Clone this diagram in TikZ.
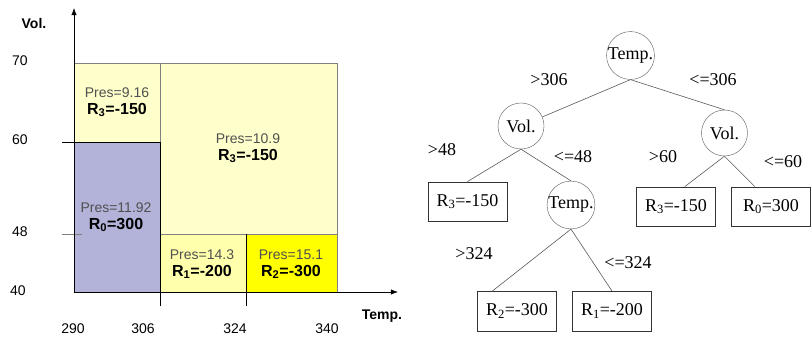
\documentclass[tikz,border=0pt]{standalone}
\usepackage{fontspec}
\setmainfont{Liberation Serif}
\setsansfont{Liberation Sans}
\usepackage{xcolor}
\usepackage{tikz}
\usetikzlibrary{positioning,arrows.meta}
\definecolor{paleyel}{RGB}{255,255,204}
\definecolor{midyel}{RGB}{255,255,172}
\definecolor{hotyel}{RGB}{255,255,0}
\definecolor{regblue}{RGB}{179,179,217}
\definecolor{presgray}{RGB}{80,80,80}

\begin{document}
\begin{tikzpicture}[x=1pt, y=-1pt, every node/.style={font=\fontsize{14}{16}\selectfont\sffamily}]
    \tikzstyle{region}=[align=center, inner sep=1pt, font=\fontsize{14}{17}\selectfont\sffamily\color{presgray}]
    \tikzstyle{tick}=[anchor=center]
    \tikzstyle{test}=[draw=black!65, circle, minimum size=46pt, inner sep=0pt, font=\fontsize{18}{18}\selectfont\rmfamily]
    \tikzstyle{leaf}=[draw=black!80, minimum width=79pt, minimum height=39.5pt, inner sep=0pt, font=\fontsize{18}{18}\selectfont\rmfamily]
    \tikzstyle{cond}=[font=\fontsize{18}{18}\selectfont\rmfamily]
    \tikzstyle{edge}=[draw=black!65, semithick]
    \useasboundingbox (0,0) rectangle (812,339);
    % regions of the temp/vol plane
    \fill[paleyel] (74,63) rectangle (337,234);
    \fill[regblue] (74,142) rectangle (160,292);
    \fill[midyel] (160,234) rectangle (246,292);
    \fill[hotyel] (246,234) rectangle (337,292);
    \draw[gray] (74,63) rectangle (337,292);
    \draw[gray] (160,63) -- (160,142);
    \draw[gray] (160,234) -- (337,234);
    \draw[gray] (62,234) -- (82,234);
    \draw (62,142) -- (160,142) -- (160,306);
    \draw (246,234) -- (246,306);
    \draw[-{Latex[length=2.5mm]}, semithick] (74,292) -- (74,8);
    \draw[-{Latex[length=2.5mm]}, semithick] (74,292) -- (398,292);
    % region labels
    \node[region] (p1) at (117,102) {Pres=9.16\\{\fontsize{16}{18}\selectfont\bfseries\color{black}R\textsubscript{3}=-150}};
    \node[region] (p2) at (248,148) {Pres=10.9\\{\fontsize{16}{18}\selectfont\bfseries\color{black}R\textsubscript{3}=-150}};
    \node[region] (p3) at (116,217) {Pres=11.92\\{\fontsize{16}{18}\selectfont\bfseries\color{black}R\textsubscript{0}=300}};
    \node[region] (p4) at (202,264) {Pres=14.3\\{\fontsize{16}{18}\selectfont\bfseries\color{black}R\textsubscript{1}=-200}};
    \node[region] (p5) at (291,264) {Pres=15.1\\{\fontsize{16}{18}\selectfont\bfseries\color{black}R\textsubscript{2}=-300}};
    % axis labels
    \node[font=\fontsize{14}{16}\selectfont\sffamily\bfseries] (vol) at (34,23) {Vol.};
    \node[font=\fontsize{14}{16}\selectfont\sffamily\bfseries] (temp) at (382,316) {Temp.};
    \node[tick] (y70) at (20,61) {70};
    \node[tick] (y60) at (20,140) {60};
    \node[tick] (y48) at (20,232) {48};
    \node[tick] (y40) at (18,291) {40};
    \node[tick] (x290) at (73,329) {290};
    \node[tick] (x306) at (143,329) {306};
    \node[tick] (x324) at (235,329) {324};
    \node[tick] (x340) at (327,329) {340};
    % decision tree
    \node[test] (root) at (630.5,55.5) {Temp.};
    \node[test] (vl) at (521,126) {Vol.};
    \node[test] (vr) at (724.5,133) {Vol.};
    \node[test] (tl) at (571,205) {Temp.};
    \node[leaf] (r3a) at (467.5,201.5) {R\textsubscript{3}=-150};
    \node[leaf] (r3b) at (676,206.5) {R\textsubscript{3}=-150};
    \node[leaf] (r0) at (771,206.5) {R\textsubscript{0}=300};
    \node[leaf] (r2) at (517,311) {R\textsubscript{2}=-300};
    \node[leaf] (r1) at (612,311) {R\textsubscript{1}=-200};
    \draw[edge] (root.south) -- (vl);
    \draw[edge] (root.south) -- (vr.north);
    \draw[edge] (vl.south) -- (r3a.north);
    \draw[edge] (vl.south) -- (tl.north);
    \draw[edge] (vr.south) -- (r3b.66);
    \draw[edge] (vr.south) -- (r0.129);
    \draw[edge] (tl.south) -- (r2.141);
    \draw[edge] (tl.south) -- (r1.north);
    \node[cond] (c1) at (549,80) {>306};
    \node[cond] (c2) at (713,80) {<=306};
    \node[cond] (c3) at (442,150) {>48};
    \node[cond] (c4) at (573,157) {<=48};
    \node[cond] (c5) at (663,157) {>60};
    \node[cond] (c6) at (783,162) {<=60};
    \node[cond] (c7) at (474,254) {>324};
    \node[cond] (c8) at (628,263) {<=324};
  \end{tikzpicture}
\end{document}
